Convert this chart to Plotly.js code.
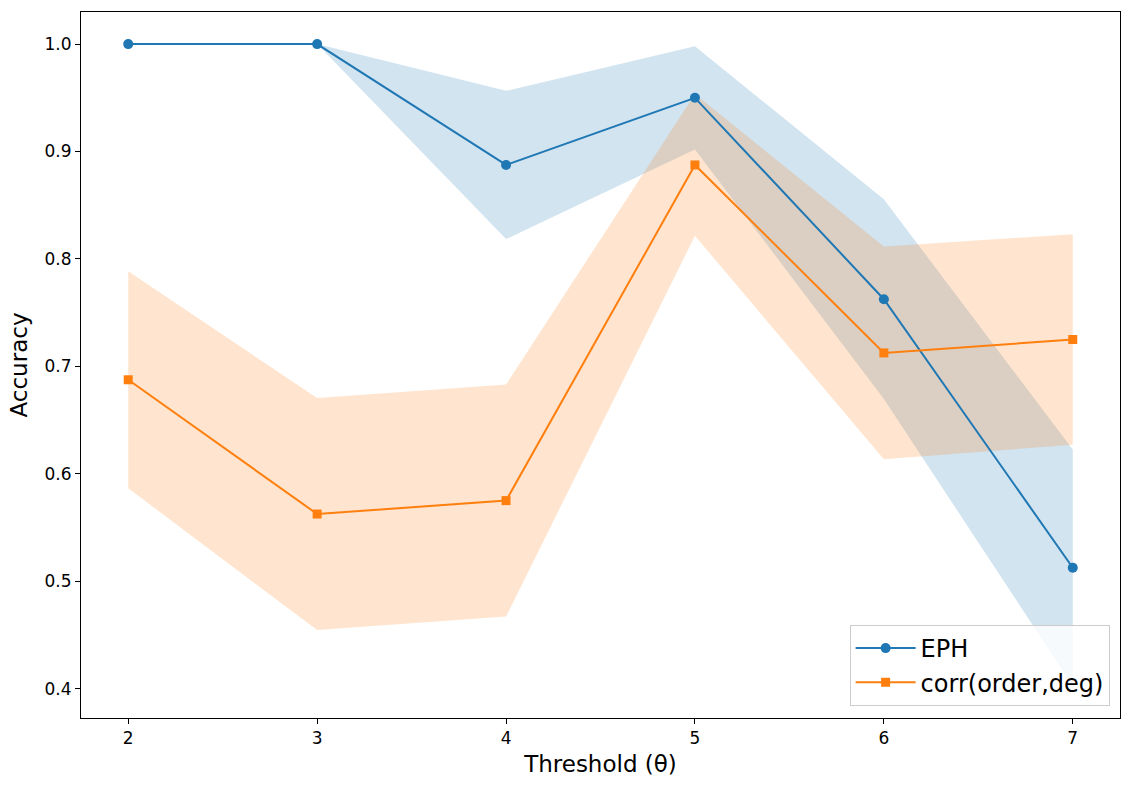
<!DOCTYPE html>
<html>
<head>
<meta charset="utf-8">
<script src="https://cdn.plot.ly/plotly-3.0.1.min.js"></script>
<style>html,body{margin:0;padding:0;background:#fff;} #chart{width:1133px;height:790px;}</style>
</head>
<body>
<div id="chart"></div>
<script>
const thresholds = [2, 3, 4, 5, 6, 7];
const ephMean = [1.0, 1.0, 0.8875, 0.95, 0.7625, 0.5125];
const ephStd = [0.0, 0.0, 0.069, 0.048, 0.093, 0.110];
const corrMean = [0.6875, 0.5625, 0.575, 0.8875, 0.7125, 0.725];
const corrStd = [0.101, 0.108, 0.108, 0.066, 0.099, 0.098];
const yTicks = [0.4, 0.5, 0.6, 0.7, 0.8, 0.9, 1.0];

const blue = '#1f77b4', orange = '#ff7f0e';
const up = (m, s) => m.map((v, i) => v + s[i]);
const lo = (m, s) => m.map((v, i) => v - s[i]);

const traces = [
  {x: thresholds, y: up(ephMean, ephStd), mode: 'lines', line: {width: 0, color: blue}, showlegend: false, hoverinfo: 'skip'},
  {x: thresholds, y: lo(ephMean, ephStd), mode: 'lines', line: {width: 0, color: blue}, fill: 'tonexty', fillcolor: 'rgba(31,119,180,0.2)', showlegend: false, hoverinfo: 'skip'},
  {x: thresholds, y: up(corrMean, corrStd), mode: 'lines', line: {width: 0, color: orange}, showlegend: false, hoverinfo: 'skip'},
  {x: thresholds, y: lo(corrMean, corrStd), mode: 'lines', line: {width: 0, color: orange}, fill: 'tonexty', fillcolor: 'rgba(255,127,14,0.2)', showlegend: false, hoverinfo: 'skip'},
  {x: thresholds, y: ephMean, name: 'EPH', mode: 'lines+markers', line: {color: blue, width: 2}, marker: {symbol: 'circle', size: 10, color: blue}},
  {x: thresholds, y: corrMean, name: 'corr(order,deg)', mode: 'lines+markers', line: {color: orange, width: 2}, marker: {symbol: 'square', size: 9, color: orange}}
];

const axisCommon = {
  showgrid: false, zeroline: false, showline: true, mirror: true,
  linecolor: '#000', linewidth: 1, ticks: 'outside', ticklen: 5, tickcolor: '#000', tickwidth: 1,
  tickfont: {family: 'DejaVu Sans', size: 17, color: '#000'}
};

const layout = {
  width: 1133, height: 790,
  margin: {l: 81, r: 13, t: 12, b: 72},
  paper_bgcolor: '#fff', plot_bgcolor: '#fff',
  font: {family: 'DejaVu Sans', color: '#000'},
  xaxis: Object.assign({}, axisCommon, {
    range: [1.75, 7.25], tickvals: thresholds, ticktext: thresholds.map(String),
    title: {text: 'Threshold (θ)', font: {family: 'DejaVu Sans', size: 23, color: '#000'}, standoff: 8}
  }),
  yaxis: Object.assign({}, axisCommon, {
    range: [0.3726, 1.0299], tickvals: yTicks, ticktext: yTicks.map(v => v.toFixed(1)),
    title: {text: 'Accuracy', font: {family: 'DejaVu Sans', size: 23, color: '#000'}, standoff: 10}
  }),
  legend: {
    x: 0.99, y: 0.017, xanchor: 'right', yanchor: 'bottom', traceorder: 'normal',
    bgcolor: 'rgba(255,255,255,0.8)', bordercolor: '#cccccc', borderwidth: 1,
    font: {family: 'DejaVu Sans', size: 24, color: '#000'}, itemwidth: 60
  },
  showlegend: true
};

Plotly.newPlot('chart', traces, layout, {displayModeBar: false, staticPlot: true});
</script>
</body>
</html>
